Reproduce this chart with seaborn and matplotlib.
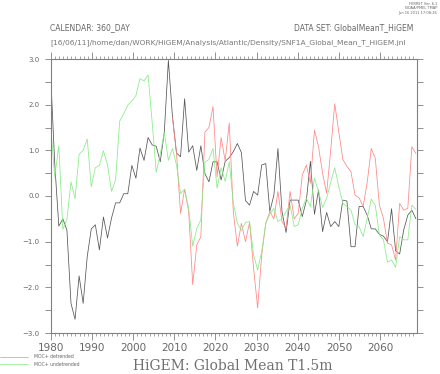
import numpy as np
import pandas as pd
import matplotlib
matplotlib.use("Agg")
import matplotlib.pyplot as plt
import seaborn as sns
from matplotlib.ticker import MultipleLocator, FuncFormatter

# model years (360_DAY calendar), one value per model year
model_year = np.arange(1980, 2071)

global_mean_t = [2.63, 0.7, -0.66, -0.5, -0.75, -2.35, -2.7, -1.75, -2.35, -1.33,
                 -0.72, -0.63, -1.18, -0.46, -0.92, -0.48, -0.15, -0.15, 0.05, 0.05,
                 0.67, 0.39, 1.05, 0.78, 1.28, 1.12, 1.09, 0.75, 1.4, 2.97,
                 1.75, 0.94, 0.86, 2.13, 0.96, 1.1, 0.56, 1.1, 0.49, 0.31,
                 0.75, 0.75, 0.35, 0.76, 0.84, 0.97, 1.15, 0.95, -0.1, -0.2,
                 0.1, 0.02, 0.68, 0.71, -0.34, 0.02, 1.04, -0.34, -0.8, -0.09,
                 -0.09, -0.09, -0.45, -0.1, 0.76, -0.4, 0.13, -0.78, -0.36, -0.67,
                 -0.56, -0.67, -0.09, -0.11, -1.11, -1.11, -0.23, -0.23, -0.42, -0.72,
                 -0.72, -0.84, -0.88, -1.0, -0.28, -1.2, -1.27, -0.74, -0.42, -0.31,
                 -0.5]

moc_undetrended = [1.53, 0.42, 1.1, -0.73, -0.51, 0.31, -0.06, 0.91, 1.0, 1.25,
                   0.2, 0.62, 0.67, 0.99, 0.68, 0.1, 0.36, 1.64, 1.8, 1.99,
                   2.08, 2.2, 2.57, 2.52, 2.65, 1.62, 0.52, 0.92, 1.39, 0.78,
                   1.04, 0.68, 0.05, 0.15, -0.27, -1.1, -0.71, -0.52, 0.74, 0.8,
                   1.04, 0.17, 0.62, 0.32, 0.75, -0.15, -0.6, -0.75, -0.58, -0.56,
                   -1.29, -1.62, -1.22, -0.6, -0.4, -0.27, -0.56, -0.5, -0.34, -0.2,
                   -0.67, -0.63, -0.27, -0.05, -0.23, 0.39, 0.1, -0.25, -0.05, 0.3,
                   0.62, 0.2, -0.16, -0.23, -0.31, -0.63, -0.67, -0.89, -0.49, -0.07,
                   -0.21, -0.85, -0.96, -1.45, -1.4, -1.56, -0.89, -0.96, -0.96, -0.2,
                   -0.29]

moc_detrended = [np.nan] * 30 + [
                 1.72, 0.95, -0.38, 0.15, -0.34, -1.94, -1.07, -0.89, 1.4, 1.5,
                 1.96, 0.42, 1.28, 0.77, 1.6, -0.35, -1.1, -0.6, -1.0, -0.58,
                 -1.58, -2.45, -1.29, -0.6, -0.34, -0.5, 0.1, -0.56, -0.7, 0.1,
                 -0.5, -0.38, 0.46, 0.68, 0.28, 1.44, 1.08, 0.5, 0.06, 1.0,
                 2.02, 1.4, 0.8, 0.65, 0.53, 0.02, -0.04, -0.23, 0.3, 1.04,
                 0.82, -0.2, -0.49, -1.03, -1.07, -1.4, -0.16, -0.31, -0.27, 1.08,
                 0.93]

xtick_years = list(range(1980, 2061, 10))

# 360-day model years placed on a real-calendar time axis
df = pd.DataFrame({
    "time": 1980 + (model_year - 1980) * 360 / 365.25,
    "T": global_mean_t,
    "detrended": moc_detrended,
    "undetrended": moc_undetrended,
})

sns.set_style("ticks")
plt.rcParams["font.family"] = ["DejaVu Sans"]

axis_col = "#808080"
text_col = "#666666"
red = "#ff8585"
green = "#85ec85"

fig = plt.figure(figsize=(4.4, 3.74), dpi=100)
W, H = 440, 374
ax = fig.add_axes([50.7 / W, 1 - 333 / H, 366 / W, 274 / H])

sns.lineplot(data=df, x="time", y="T", ax=ax, color="#555555", lw=0.55)
sns.lineplot(data=df.dropna(), x="time", y="detrended", ax=ax, color=red, lw=0.55)
sns.lineplot(data=df, x="time", y="undetrended", ax=ax, color=green, lw=0.55)

ax.set_xlim(1980, 2068.9)
ax.set_ylim(-3, 3)
ax.set_xlabel("")
ax.set_ylabel("")

ax.set_xticks(xtick_years)
ax.xaxis.set_minor_locator(MultipleLocator(1))
ax.yaxis.set_major_locator(MultipleLocator(1))
ax.yaxis.set_minor_locator(MultipleLocator(0.5))
ax.yaxis.set_major_formatter(FuncFormatter(lambda v, p: f"{v:.1f}".replace("-", "\u2212")))

ax.tick_params(axis="x", which="major", direction="out", length=5, width=0.6,
               top=True, colors=axis_col, labelcolor=text_col, labelsize=7.5, pad=2)
ax.tick_params(axis="x", which="minor", direction="out", length=2.5, width=0.5,
               top=True, colors=axis_col)
ax.tick_params(axis="y", which="both", direction="out", length=4, width=0.6,
               right=True, colors=axis_col, labelcolor=text_col, labelsize=5, pad=4)

for s in ax.spines.values():
    s.set_color(axis_col)
    s.set_linewidth(0.8)

# header text
fig.text(50 / W, 1 - 28 / H, "CALENDAR: 360_DAY", fontsize=5.5, color=text_col,
         ha="left", va="center")
fig.text(413 / W, 1 - 28 / H, "DATA SET: GlobalMeanT_HiGEM", fontsize=5.5,
         color=text_col, ha="right", va="center")
fig.text(50 / W, 1 - 42.5 / H,
         "[16/06/11]/home/dan/WORK/HiGEM/Analysis/Atlantic/Density/SNF1A_Global_Mean_T_HiGEM.jnl",
         fontsize=5.4, color="#777777", ha="left", va="center")
fig.text(437 / W, 1 - 2 / H, "FERRET Ver. 6.1\nNOAA/PMEL TMAP\nJun 16 2011 17:08:26",
         fontsize=2.6, color=text_col, ha="right", va="top", linespacing=1.1)

# legend
fig.add_artist(plt.Line2D([0, 28 / W], [1 - 356.5 / H] * 2, color=red, lw=0.5))
fig.add_artist(plt.Line2D([0, 28 / W], [1 - 364 / H] * 2, color=green, lw=0.5))
fig.text(34 / W, 1 - 356.5 / H, "MOC+ detrended", fontsize=3.3, color=text_col,
         ha="left", va="center")
fig.text(34 / W, 1 - 364 / H, "MOC+ undetrended", fontsize=3.3, color=text_col,
         ha="left", va="center")

fig.text(233 / W, 1 - 366 / H, "HiGEM: Global Mean T1.5m", fontsize=10,
         family="DejaVu Serif", color="#707070", ha="center", va="center")

fig.savefig("out.png", dpi=100)
